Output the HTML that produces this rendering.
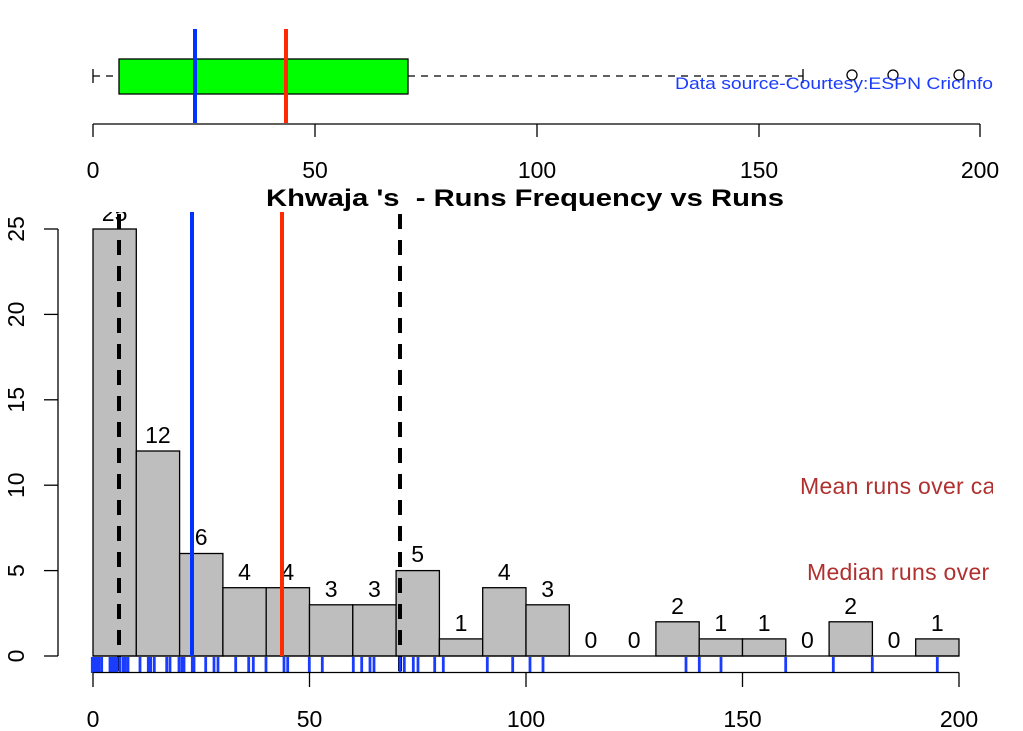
<!DOCTYPE html>
<html><head><meta charset="utf-8"><style>
html,body{margin:0;padding:0;background:#fff;}
svg{display:block;font-family:"Liberation Sans",Arial,sans-serif;}
</style></head><body>
<svg width="1023" height="731" viewBox="0 0 1023 731" xmlns="http://www.w3.org/2000/svg">
<defs><clipPath id="c"><rect x="0" y="0" width="993" height="731"/></clipPath></defs>
<!-- Top boxplot -->
<g stroke="#000" stroke-width="1.3" fill="none">
<line x1="93" y1="69" x2="93" y2="83"/>
<line x1="93" y1="76" x2="119" y2="76" stroke-dasharray="7,6"/>
<line x1="408" y1="76" x2="803" y2="76" stroke-dasharray="7,6"/>
<line x1="803" y1="69" x2="803" y2="83"/>
<circle cx="852" cy="75" r="5"/><circle cx="893" cy="75" r="5"/><circle cx="959" cy="75" r="5"/>
</g>
<rect x="119" y="59" width="289" height="35" fill="#00ff00" stroke="#000" stroke-width="1.3"/>
<line x1="195" y1="29" x2="195" y2="123" stroke="#0033ff" stroke-width="4"/>
<line x1="286" y1="29" x2="286" y2="123" stroke="#ff2a00" stroke-width="4"/>
<g stroke="#000" stroke-width="1.3">
<line x1="93" y1="124" x2="980" y2="124"/>
<line x1="93" y1="124" x2="93" y2="137"/><line x1="315" y1="124" x2="315" y2="137"/><line x1="537" y1="124" x2="537" y2="137"/><line x1="759" y1="124" x2="759" y2="137"/><line x1="980" y1="124" x2="980" y2="137"/>
</g>
<g font-size="23" text-anchor="middle" fill="#000">
<text x="93" y="178">0</text><text x="315" y="178">50</text><text x="537" y="178">100</text><text x="759" y="178">150</text><text x="980" y="178">200</text>
</g>
<text x="675" y="89" font-size="17" fill="#1a3cff" textLength="318" lengthAdjust="spacingAndGlyphs">Data source-Courtesy:ESPN CricInfo</text>
<!-- Histogram -->
<g fill="#bebebe" stroke="#000" stroke-width="1.3">
<rect x="93" y="229" width="43.3" height="427"/>
<rect x="136.3" y="451" width="43.3" height="205"/>
<rect x="179.6" y="553.5" width="43.3" height="102.5"/>
<rect x="222.9" y="587.7" width="43.3" height="68.3"/>
<rect x="266.2" y="587.7" width="43.3" height="68.3"/>
<rect x="309.5" y="604.8" width="43.3" height="51.2"/>
<rect x="352.8" y="604.8" width="43.3" height="51.2"/>
<rect x="396.1" y="570.6" width="43.3" height="85.4"/>
<rect x="439.4" y="638.9" width="43.3" height="17.1"/>
<rect x="482.7" y="587.7" width="43.3" height="68.3"/>
<rect x="526" y="604.8" width="43.3" height="51.2"/>
<rect x="655.9" y="621.8" width="43.3" height="34.2"/>
<rect x="699.2" y="638.9" width="43.3" height="17.1"/>
<rect x="742.5" y="638.9" width="43.3" height="17.1"/>
<rect x="829.1" y="621.8" width="43.3" height="34.2"/>
<rect x="915.7" y="638.9" width="43.3" height="17.1"/>
</g>
<line x1="93" y1="656" x2="959" y2="656" stroke="#000" stroke-width="1.3"/>
<g font-size="23" text-anchor="middle" fill="#000">
<text x="114.6" y="221">25</text>
<text x="157.9" y="443">12</text>
<text x="201.2" y="545">6</text>
<text x="244.5" y="580">4</text>
<text x="287.8" y="580">4</text>
<text x="331.1" y="597">3</text>
<text x="374.4" y="597">3</text>
<text x="417.7" y="562">5</text>
<text x="461" y="631">1</text>
<text x="504.3" y="580">4</text>
<text x="547.6" y="597">3</text>
<text x="590.9" y="648">0</text>
<text x="634.2" y="648">0</text>
<text x="677.5" y="614">2</text>
<text x="720.8" y="631">1</text>
<text x="764.1" y="631">1</text>
<text x="807.4" y="648">0</text>
<text x="850.7" y="614">2</text>
<text x="894" y="648">0</text>
<text x="937.3" y="631">1</text>
</g>
<rect x="0" y="185" width="1023" height="27" fill="#fff"/>
<text x="266" y="206" font-size="24" font-weight="bold" textLength="518" lengthAdjust="spacingAndGlyphs" xml:space="preserve">Khwaja 's  - Runs Frequency vs Runs</text>
<line x1="192" y1="212" x2="192" y2="656" stroke="#0033ff" stroke-width="4"/>
<line x1="282" y1="212" x2="282" y2="656" stroke="#ff2a00" stroke-width="4"/>
<line x1="119" y1="214" x2="119" y2="672" stroke="#000" stroke-width="4" stroke-dasharray="15,11"/>
<line x1="400" y1="214" x2="400" y2="672" stroke="#000" stroke-width="4" stroke-dasharray="15,11"/>
<!-- y axis -->
<g stroke="#000" stroke-width="1.3">
<line x1="58" y1="229" x2="58" y2="656"/>
<line x1="44" y1="229" x2="58" y2="229"/><line x1="44" y1="314.4" x2="58" y2="314.4"/><line x1="44" y1="399.8" x2="58" y2="399.8"/><line x1="44" y1="485.2" x2="58" y2="485.2"/><line x1="44" y1="570.6" x2="58" y2="570.6"/><line x1="44" y1="656" x2="58" y2="656"/>
</g>
<g font-size="23" text-anchor="middle" fill="#000">
<text transform="translate(24,229) rotate(-90)">25</text>
<text transform="translate(24,314.4) rotate(-90)">20</text>
<text transform="translate(24,399.8) rotate(-90)">15</text>
<text transform="translate(24,485.2) rotate(-90)">10</text>
<text transform="translate(24,570.6) rotate(-90)">5</text>
<text transform="translate(24,656) rotate(-90)">0</text>
</g>
<!-- rug -->
<g stroke="#1a3cff" stroke-width="2.8">
<line x1="92.3" y1="657" x2="92.3" y2="673"/><line x1="94.3" y1="657" x2="94.3" y2="673"/><line x1="96.7" y1="657" x2="96.7" y2="673"/><line x1="99" y1="657" x2="99" y2="673"/><line x1="101.7" y1="657" x2="101.7" y2="673"/>
<line x1="110" y1="657" x2="110" y2="673"/><line x1="112" y1="657" x2="112" y2="673"/><line x1="114.3" y1="657" x2="114.3" y2="673"/><line x1="116.7" y1="657" x2="116.7" y2="673"/><line x1="120" y1="657" x2="120" y2="673"/><line x1="123.3" y1="657" x2="123.3" y2="673"/><line x1="125.3" y1="657" x2="125.3" y2="673"/><line x1="128" y1="657" x2="128" y2="673"/>
<line x1="140" y1="657" x2="140" y2="673"/><line x1="148.3" y1="657" x2="148.3" y2="673"/><line x1="150.7" y1="657" x2="150.7" y2="673"/><line x1="154.3" y1="657" x2="154.3" y2="673"/>
<line x1="166.7" y1="657" x2="166.7" y2="673"/><line x1="170" y1="657" x2="170" y2="673"/><line x1="179" y1="657" x2="179" y2="673"/><line x1="182" y1="657" x2="182" y2="673"/><line x1="184" y1="657" x2="184" y2="673"/>
<line x1="192.3" y1="657" x2="192.3" y2="673"/><line x1="194" y1="657" x2="194" y2="673"/><line x1="205.7" y1="657" x2="205.7" y2="673"/><line x1="214" y1="657" x2="214" y2="673"/><line x1="218" y1="657" x2="218" y2="673"/>
<line x1="235.7" y1="657" x2="235.7" y2="673"/><line x1="248.7" y1="657" x2="248.7" y2="673"/><line x1="253.3" y1="657" x2="253.3" y2="673"/><line x1="266" y1="657" x2="266" y2="673"/>
<line x1="284" y1="657" x2="284" y2="673"/><line x1="287.7" y1="657" x2="287.7" y2="673"/><line x1="309.3" y1="657" x2="309.3" y2="673"/><line x1="322.3" y1="657" x2="322.3" y2="673"/>
<line x1="353.3" y1="657" x2="353.3" y2="673"/><line x1="361.7" y1="657" x2="361.7" y2="673"/><line x1="370" y1="657" x2="370" y2="673"/><line x1="374" y1="657" x2="374" y2="673"/>
<line x1="400" y1="657" x2="400" y2="673"/><line x1="404.3" y1="657" x2="404.3" y2="673"/><line x1="413.3" y1="657" x2="413.3" y2="673"/><line x1="418" y1="657" x2="418" y2="673"/>
<line x1="434.7" y1="657" x2="434.7" y2="673"/><line x1="443.3" y1="657" x2="443.3" y2="673"/><line x1="487.3" y1="657" x2="487.3" y2="673"/><line x1="512.7" y1="657" x2="512.7" y2="673"/><line x1="530" y1="657" x2="530" y2="673"/><line x1="543" y1="657" x2="543" y2="673"/>
<line x1="686" y1="657" x2="686" y2="673"/><line x1="699.3" y1="657" x2="699.3" y2="673"/><line x1="721" y1="657" x2="721" y2="673"/><line x1="785.7" y1="657" x2="785.7" y2="673"/><line x1="833.3" y1="657" x2="833.3" y2="673"/><line x1="872.3" y1="657" x2="872.3" y2="673"/><line x1="937.3" y1="657" x2="937.3" y2="673"/>
</g>
<!-- bottom x axis -->
<g stroke="#000" stroke-width="1.3">
<line x1="93" y1="672.5" x2="959" y2="672.5"/>
<line x1="93" y1="672.5" x2="93" y2="687"/><line x1="309.5" y1="672.5" x2="309.5" y2="687"/><line x1="526" y1="672.5" x2="526" y2="687"/><line x1="742.5" y1="672.5" x2="742.5" y2="687"/><line x1="959" y1="672.5" x2="959" y2="687"/>
</g>
<g font-size="23" text-anchor="middle" fill="#000">
<text x="93" y="727">0</text><text x="309.5" y="727">50</text><text x="526" y="727">100</text><text x="742.5" y="727">150</text><text x="959" y="727">200</text>
</g>
<g clip-path="url(#c)" font-size="23" fill="#b03030">
<text x="800" y="494" letter-spacing="0.3">Mean runs over career</text>
<text x="807" y="580" letter-spacing="0.3">Median runs over career</text>
</g>
</svg>
</body></html>
